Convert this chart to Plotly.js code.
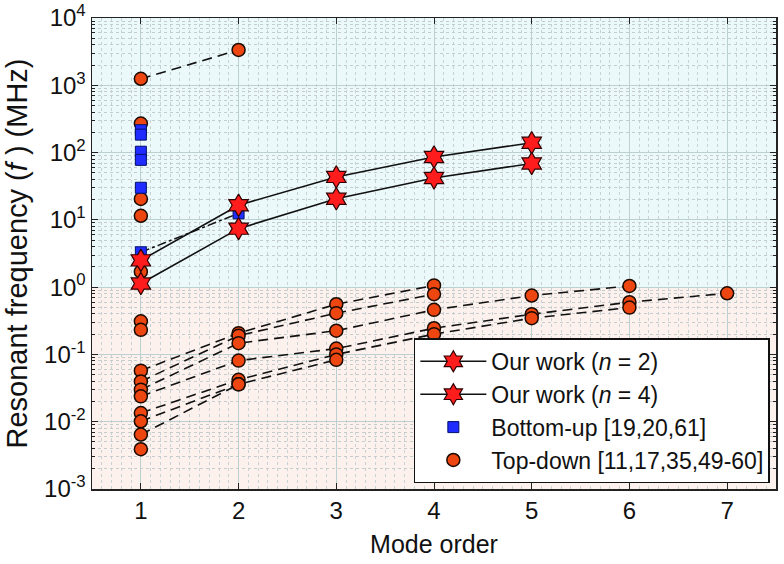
<!DOCTYPE html>
<html>
<head>
<meta charset="utf-8">
<script src="https://cdn.plot.ly/plotly-3.0.1.min.js"></script>
<style>
  html, body { margin: 0; padding: 0; background: #fff; }
  #chart { width: 784px; height: 564px; }
</style>
</head>
<body>
<div id="chart"></div>
<script>
// our work (stars)
var modeN2 = [1, 2, 3, 4, 5];
var freqN2 = [1.13, 7.4, 20.6, 42, 69];
var modeN4 = [1, 2, 3, 4, 5];
var freqN4 = [2.5, 16.5, 43.5, 86, 140];

// bottom-up (blue squares)
var buMode = [1, 1, 1, 1, 1];
var buFreq = [215, 185, 103, 78, 30];
var buLinkMode = [1, 2];
var buLinkFreq = [3.3, 12.5];

// top-down, single points
var tdMode = [1, 1, 1, 1, 1, 1, 1];
var tdFreq = [270, 20.5, 11.5, 1.7, 0.31, 0.232, 0.0039];

// top-down, dashed series
var tdSeries = [
  { x: [1, 2], y: [1250, 3350] },
  { x: [1, 2, 3, 4], y: [0.0573, 0.207, 0.557, 1.06] },
  { x: [1, 2, 3, 4], y: [0.0397, 0.19, 0.41, 0.785] },
  { x: [1, 2, 3, 4, 5, 6], y: [0.0299, 0.147, 0.225, 0.46, 0.75, 1.04] },
  { x: [1, 2, 3, 4, 5, 6, 7], y: [0.0238, 0.081, 0.122, 0.245, 0.396, 0.597, 0.81] },
  { x: [1, 2, 3, 4, 5, 6], y: [0.01346, 0.042, 0.1, 0.2, 0.346, 0.497] },
  { x: [1, 2, 3], y: [0.01014, 0.036, 0.083] },
  { x: [1, 2], y: [0.00644, 0.0359] }
];

var xTickVals = [1, 2, 3, 4, 5, 6, 7];
var yTickVals = [1e-3, 1e-2, 1e-1, 1, 10, 100, 1000, 10000];
var yTickText = ['10<sup>-3</sup>', '10<sup>-2</sup>', '10<sup>-1</sup>', '10<sup>0</sup>',
  '10<sup>1</sup>', '10<sup>2</sup>', '10<sup>3</sup>', '10<sup>4</sup>'];

var circle = { symbol: 'circle', size: 13, color: '#ee4611', line: { color: '#1a0a00', width: 1.5 } };
var square = { symbol: 'square', size: 11, color: '#1f2bff', line: { color: '#00106a', width: 1 } };
var star = { symbol: 'hexagram', size: 17, color: '#ff1c1c', line: { color: '#300000', width: 1.2 } };

var data = [];

tdSeries.forEach(function (s) {
  data.push({
    x: s.x, y: s.y, type: 'scatter', mode: 'lines+markers',
    line: { color: '#111', width: 1.6, dash: '10px,6px' },
    marker: circle, showlegend: false, hoverinfo: 'none'
  });
});

data.push({
  x: tdMode, y: tdFreq, type: 'scatter', mode: 'markers',
  name: 'Top-down [11,17,35,49-60]', marker: circle, legendrank: 4
});

data.push({
  x: buLinkMode, y: buLinkFreq, type: 'scatter', mode: 'lines+markers',
  line: { color: '#111', width: 1.5, dash: 'dashdot' },
  marker: square, showlegend: false
});

data.push({
  x: buMode, y: buFreq, type: 'scatter', mode: 'markers',
  name: 'Bottom-up [19,20,61]', marker: square, legendrank: 3
});

data.push({
  x: modeN4, y: freqN4, type: 'scatter', mode: 'lines+markers',
  name: 'Our work (<i>n</i> = 4)', line: { color: '#111', width: 1.6 },
  marker: star, legendrank: 2
});

data.push({
  x: modeN2, y: freqN2, type: 'scatter', mode: 'lines+markers',
  name: 'Our work (<i>n</i> = 2)', line: { color: '#111', width: 1.6 },
  marker: star, legendrank: 1
});

var fontFam = 'Liberation Sans, Arial, sans-serif';

var layout = {
  width: 784,
  height: 564,
  margin: { l: 92, r: 8, t: 18, b: 75 },
  paper_bgcolor: '#fff',
  plot_bgcolor: '#fff',
  font: { family: fontFam, size: 24, color: '#111' },
  showlegend: true,
  legend: {
    x: 0.991, y: 0.012, xanchor: 'right', yanchor: 'bottom',
    bgcolor: '#fff', bordercolor: '#111', borderwidth: 1.5,
    font: { size: 23 }, tracegroupgap: 0, itemwidth: 66
  },
  xaxis: {
    range: [0.5, 7.5],
    tickvals: xTickVals,
    ticks: 'inside', ticklen: 6, tickcolor: '#222',
    tickfont: { size: 24 },
    showline: true, linecolor: '#222', linewidth: 1.5, mirror: 'ticks',
    showgrid: true, gridcolor: '#bcd0d2', gridwidth: 1,
    zeroline: false,
    minor: { dtick: 0.1, showgrid: true, gridcolor: '#c8d2d4', griddash: 'dot', gridwidth: 1 },
    title: { text: 'Mode order', font: { size: 25 }, standoff: 12 }
  },
  yaxis: {
    type: 'log',
    range: [-3.0005, 4.0005],
    tickmode: 'array', tickvals: yTickVals, ticktext: yTickText,
    ticks: 'inside', ticklen: 6, tickcolor: '#222',
    tickfont: { size: 24 },
    ticklabeloverflow: 'allow',
    showline: true, linecolor: '#222', linewidth: 1.5, mirror: 'ticks',
    showgrid: true, gridcolor: '#bcd0d2', gridwidth: 1,
    zeroline: false,
    minor: { dtick: 'D1', ticks: 'inside', ticklen: 3, showgrid: true, gridcolor: '#c4cccd', griddash: 'dot', gridwidth: 1 },
    title: { text: 'Resonant frequency (<i>f</i> ) (MHz)', font: { size: 29 }, standoff: 8 }
  },
  shapes: [
    { type: 'rect', xref: 'paper', yref: 'y', x0: 0, x1: 1, y0: 1, y1: 10000,
      fillcolor: '#ebf9fa', line: { width: 0 }, layer: 'below' },
    { type: 'rect', xref: 'paper', yref: 'y', x0: 0, x1: 1, y0: 0.001, y1: 1,
      fillcolor: '#fcf1ec', line: { width: 0 }, layer: 'below' }
  ]
};

Plotly.newPlot('chart', data, layout, { displayModeBar: false, staticPlot: true });
</script>
</body>
</html>
